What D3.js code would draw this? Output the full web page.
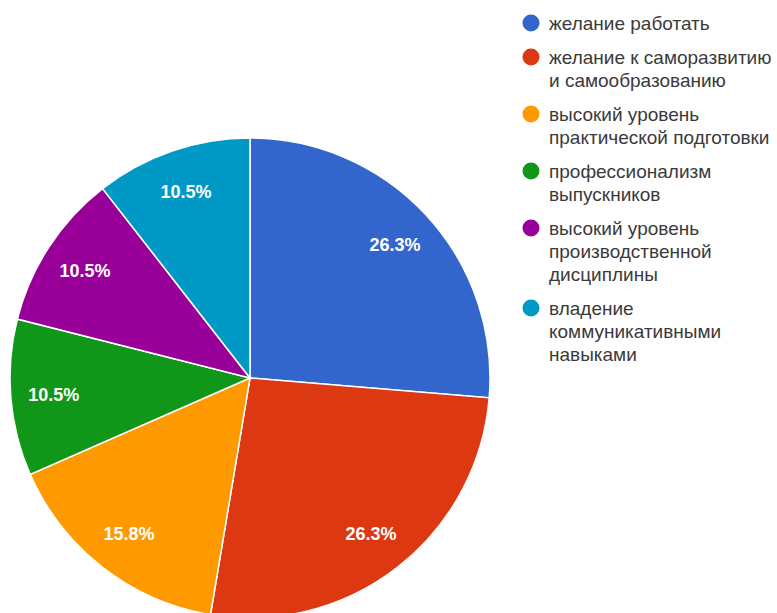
<!DOCTYPE html>
<html>
<head>
<meta charset="utf-8">
<script src="https://cdn.jsdelivr.net/npm/d3@7"></script>
<style>
  html, body { margin: 0; padding: 0; background: #ffffff; }
  svg { display: block; }
</style>
</head>
<body>
<svg id="chart" width="777" height="613"></svg>
<script>
// ---- data ----
const categories = [
  ["желание работать"],
  ["желание к саморазвитию", "и самообразованию"],
  ["высокий уровень", "практической подготовки"],
  ["профессионализм", "выпускников"],
  ["высокий уровень", "производственной", "дисциплины"],
  ["владение", "коммуникативными", "навыками"]
];
const counts = [5, 5, 3, 2, 2, 2];
const percentLabels = ["26.3%", "26.3%", "15.8%", "10.5%", "10.5%", "10.5%"];
const colors = ["#3366cc", "#dc3912", "#ff9900", "#109618", "#990099", "#0099c6"];

// ---- layout ----
const W = 777, H = 613;
const cx = 250, cy = 378, R = 240;
const svg = d3.select("#chart");

const data = counts.map((v, i) => ({ value: v, name: categories[i], label: percentLabels[i], i }));
const pie = d3.pie().value(d => d.value).sort(null);
const arcs = pie(data);
const arc = d3.arc().innerRadius(0).outerRadius(R);
const labelArc = d3.arc().innerRadius(197).outerRadius(197);
const color = d3.scaleOrdinal().domain(d3.range(counts.length)).range(colors);

const g = svg.append("g").attr("transform", `translate(${cx},${cy})`);
g.selectAll("path.slice").data(arcs).join("path")
  .attr("class", "slice")
  .attr("d", arc)
  .attr("fill", d => color(d.data.i))
  .attr("stroke", "#ffffff")
  .attr("stroke-width", 1.5);

g.selectAll("text.pct").data(arcs).join("text")
  .attr("class", "pct")
  .attr("transform", d => `translate(${labelArc.centroid(d)})`)
  .attr("text-anchor", "middle")
  .attr("dy", "0.36em")
  .attr("font-family", "Arial, 'Liberation Sans', sans-serif")
  .attr("font-size", 18)
  .attr("font-weight", "bold")
  .attr("fill", "#ffffff")
  .text(d => d.data.label);

// ---- legend ----
const lineH = 23, gap = 11;
const legend = svg.append("g").attr("transform", "translate(531,23)");
let y = 0;
data.forEach((d, i) => {
  const item = legend.append("g").attr("transform", `translate(0,${y})`);
  item.append("circle").attr("cx", 0).attr("cy", 0).attr("r", 8.5).attr("fill", color(i));
  const t = item.append("text")
    .attr("x", 18)
    .attr("y", 0)
    .attr("font-family", "Arial, 'Liberation Sans', sans-serif")
    .attr("font-size", 19)
    .attr("fill", "#3a3a3a");
  d.name.forEach((line, k) => {
    t.append("tspan").attr("x", 18).attr("y", k * lineH).attr("dy", "0.35em").text(line);
  });
  y += d.name.length * lineH + gap;
});
</script>
</body>
</html>
